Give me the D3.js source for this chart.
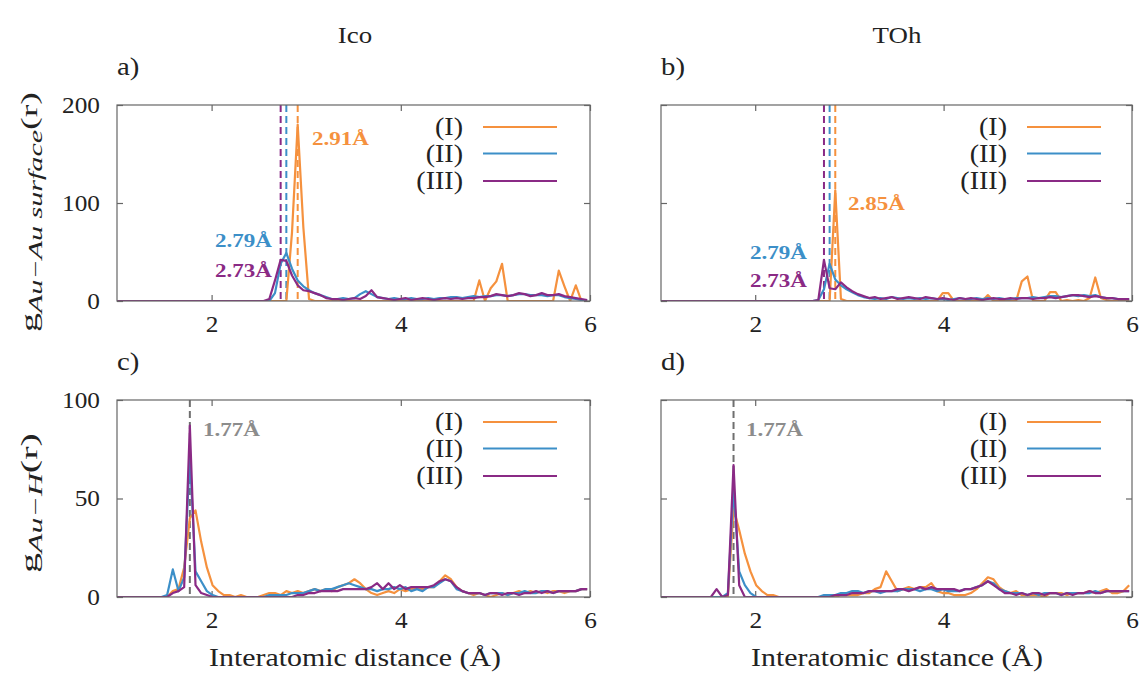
<!DOCTYPE html>
<html>
<head>
<meta charset="utf-8">
<script src="https://cdnjs.cloudflare.com/ajax/libs/d3/7.8.5/d3.min.js"></script>
<style>
  body { margin: 0; background: #fff; }
</style>
</head>
<body>
<svg id="chart" width="1140" height="675"></svg>
<script>
// radial bins (Å), centres of 0.06 Å bins
var rBins = [0.99,1.05,1.11,1.17,1.23,1.29,1.35,1.41,1.47,1.53,
  1.59,1.65,1.71,1.77,1.83,1.89,1.95,2.01,2.07,2.13,
  2.19,2.25,2.31,2.37,2.43,2.49,2.55,2.61,2.67,2.73,
  2.79,2.85,2.91,2.97,3.03,3.09,3.15,3.21,3.27,3.33,
  3.39,3.45,3.51,3.57,3.63,3.69,3.75,3.81,3.87,3.93,
  3.99,4.05,4.11,4.17,4.23,4.29,4.35,4.41,4.47,4.53,
  4.59,4.65,4.71,4.77,4.83,4.89,4.95,5.01,5.07,5.13,
  5.19,5.25,5.31,5.37,5.43,5.49,5.55,5.61,5.67,5.73,
  5.79,5.85,5.91,5.97];

// g Au-Au surface, Ico
var icoSurfI = [0,0,0,0,0,0,0,0,0,0, 0,0,0,0,0,0,0,0,0,0, 0,0,0,0,0,0,0,0,0,0,
  0,70,180,75,2, 0,0,0,0,0,0,0,0,0,0, 0,0,0,0,0,0,0,0,0,0, 0,0,0,0,0,0,0,0,0,
  21,0,13,20,38,0, 0,0,0,0,0,0,0,0, 31,15,0,16,0,0];
var icoSurfII = [0,0,0,0,0,0,0,0,0,0, 0,0,0,0,0,0,0,0,0,0, 0,0,0,0,0,0,0,0,
  8,38,49,33,21,15,11,8,6,4, 2,2,3,2,3,7,10,7,4,3, 2,3,2,2,3,2,2,3,2,3,
  3,4,4,3,4,5,4,5,5,6, 6,5,6,7,7,6,6,6,5,6, 6,4,3,2,1,1];
var icoSurfIII = [0,0,0,0,0,0,0,0,0,0, 0,0,0,0,0,0,0,0,0,0, 0,0,0,0,0,0,0,
  2,21,42,41,26,16,11,10,8,6, 3,2,2,1,2,3,2,5,11,4, 3,2,1,2,3,1,2,3,2,1,
  2,3,2,3,2,3,3,4,4,5, 7,6,5,6,8,7,5,6,8,6, 6,7,5,4,3,2,1];

// g Au-Au surface, TOh
var tohSurfI = [0,0,0,0,0,0,0,0,0,0, 0,0,0,0,0,0,0,0,0,0, 0,0,0,0,0,0,0,0,0,0,
  0,113,2, 0,0,0,0,0,0,0,0,0,0,0,0,0,0,0,0,0,
  8,8,0,0,0,0,0,0,6,0, 0,0,0,0,20,25,0,0,0,9, 9,0,1,0,1,0,3,24,3,1, 0,1,1,1];
var tohSurfII = [0,0,0,0,0,0,0,0,0,0, 0,0,0,0,0,0,0,0,0,0, 0,0,0,0,0,0,0,0,
  1,12,38,22,16,12,9,6,4,3, 2,3,2,4,3,2,3,2,3,2, 3,2,2,1,2,3,2,2,3,2,
  3,2,3,2,2,3,3,3,4,3, 4,5,5,4,5,6,5,6,5,6, 4,3,3,2,2,2];
var tohSurfIII = [0,0,0,0,0,0,0,0,0,0, 0,0,0,0,0,0,0,0,0,0, 0,0,0,0,0,0,0,0,
  1,42,13,12,19,14,10,7,5,3, 4,2,3,4,2,3,4,3,2,4, 3,2,3,2,1,3,2,3,2,1,
  2,3,2,2,3,2,3,3,2,3, 3,4,3,4,5,6,6,5,4,5, 4,3,3,2,2,2];

// g Au-H, Ico
var icoHI = [0,0,0,0,0,0,0,0,0,0,
  3,4,15,40,44,28,15,6,3,1, 1,0,1,0,0,0,1,2,2,1, 3,2,3,2,3,4,3,4,3,5,
  6,7,9,7,4,2,1,2,3,2, 4,3,4,5,4,5,5,8,11,9, 5,3,2,1,2,1,0,1,2,1,
  2,3,2,3,2,3,2,3,3,2, 3,3,4,4];
var icoHII = [0,0,0,0,0,0,0,0,0,
  1,14,3,10,72,13,8,3,1,0, 0,0,0,0,0,0,0,0,1,1, 1,1,2,2,2,3,4,3,4,4,
  5,6,7,6,5,4,4,3,4,4, 5,4,5,3,4,3,5,5,7,9, 8,4,3,2,2,2,1,2,2,2,
  1,2,2,3,2,2,3,3,2,3, 3,3,3,4,4];
var icoHIII = [0,0,0,0,0,0,0,0,0,
  0,2,3,5,87,6,2,1,0,0, 0,0,0,0,0,0,0,0,0,0, 0,0,0,1,1,2,2,3,3,3,
  3,4,4,4,4,4,5,7,4,7, 4,6,4,5,5,5,5,6,8,9, 8,5,3,2,2,2,1,2,2,1,
  2,2,1,2,2,3,2,3,2,3, 3,3,3,4,4];

// g Au-H, TOh
var tohHI = [0,0,0,0,0,0,0,0,0,0,0,
  0,0,45,34,22,13,6,3,1, 1,0,0,0,0,0,0,0,0,0, 0,0,1,1,1,1,2,2,4,5,
  13,8,3,4,5,4,5,5,7,3, 2,2,1,1,1,2,4,7,10,9, 5,3,2,3,1,1,1,1,0,2,
  2,2,1,2,2,2,3,2,3,4, 2,2,3,6];
var tohHII = [0,0,0,0,0,0,0,0,0,0,0,
  0,2,55,13,6,2,0,0,0, 0,0,0,0,0,0,0,0,0,1, 1,1,2,2,3,3,2,3,3,2,
  3,3,3,4,4,4,3,4,4,3, 4,3,3,3,4,4,5,6,8,7, 4,3,2,2,2,1,2,1,2,2,
  2,1,2,2,2,2,2,3,2,3, 3,3,3,3];
var tohHIII = [0,0,0,0,0,0,0,0,0,0,
  4,0,1,67,6,0,0,0,0,0, 0,0,0,0,0,0,0,0,0,0, 0,1,1,1,2,2,2,3,3,3,
  3,3,4,4,3,4,5,4,5,4, 4,4,4,3,4,4,5,6,8,6, 4,2,2,1,2,1,2,2,1,2,
  2,1,2,1,2,2,3,2,2,3, 3,3,3,3];

var seriesNames = ['(I)', '(II)', '(III)'];
var xTicks = [2, 4, 6];
var surfTicks = [0, 100, 200];
var hTicks = [0, 50, 100];
var columnTitles = ['Ico', 'TOh'];

// peak positions (Å)
var icoSurfPeaks = [2.91, 2.79, 2.73];
var tohSurfPeaks = [2.85, 2.79, 2.73];
var hPeak = 1.77;

var colors = ['#f5913e', '#3c8fc8', '#8a2a85'];
var grayLine = '#6f6f6f';
var grayText = '#8c8c8c';
var serif = "'Liberation Serif', 'Times New Roman', serif";

var svg = d3.select('#chart');

// stretch text a bit so Liberation Serif gets the width of the LaTeX font
function widen(sel, f){
  sel.each(function(){
    var w = this.getComputedTextLength();
    this.setAttribute('textLength', w * f);
    this.setAttribute('lengthAdjust', 'spacingAndGlyphs');
  });
}

var panels = [
  {letter: 'a)', left: 117, right: 590, top: 105, bottom: 301, yMax: 200, ticks: surfTicks, yLabels: true,
   data: [icoSurfI, icoSurfII, icoSurfIII], legX: 463,
   marks: [{r: icoSurfPeaks[0], c: 0, tx: 312, ty: 145, anchor: 'start'},
           {r: icoSurfPeaks[1], c: 1, tx: 272, ty: 247, anchor: 'end'},
           {r: icoSurfPeaks[2], c: 2, tx: 272, ty: 277, anchor: 'end'}]},
  {letter: 'b)', left: 661, right: 1132, top: 105, bottom: 301, yMax: 200, ticks: surfTicks, yLabels: false,
   data: [tohSurfI, tohSurfII, tohSurfIII], legX: 1007,
   marks: [{r: tohSurfPeaks[0], c: 0, tx: 848, ty: 210, anchor: 'start'},
           {r: tohSurfPeaks[1], c: 1, tx: 807, ty: 259, anchor: 'end'},
           {r: tohSurfPeaks[2], c: 2, tx: 807, ty: 287, anchor: 'end'}]},
  {letter: 'c)', left: 117, right: 590, top: 400, bottom: 597, yMax: 100, ticks: hTicks, yLabels: true,
   data: [icoHI, icoHII, icoHIII], legX: 463,
   marks: [{r: hPeak, c: -1, tx: 203, ty: 436, anchor: 'start'}]},
  {letter: 'd)', left: 661, right: 1132, top: 400, bottom: 597, yMax: 100, ticks: hTicks, yLabels: false,
   data: [tohHI, tohHII, tohHIII], legX: 1007,
   marks: [{r: hPeak, c: -1, tx: 746, ty: 436, anchor: 'start'}]}
];

function styleTicks(sel, labelled){
  sel.select('.domain').remove();
  sel.attr('color', '#666');
  sel.selectAll('line').attr('stroke-width', 1.2);
  sel.selectAll('text')
    .attr('font-family', serif)
    .attr('font-size', 23)
    .attr('fill', '#222');
  if (!labelled) sel.selectAll('text').remove();
  else widen(sel.selectAll('text'), 1.1);
}

panels.forEach(function(p, pi){
  var x = d3.scaleLinear().domain([1, 6]).range([p.left, p.right]);
  var y = d3.scaleLinear().domain([0, p.yMax]).range([p.bottom, p.top]);
  var g = svg.append('g');

  g.append('clipPath').attr('id', 'clip' + pi)
    .append('rect')
    .attr('x', p.left).attr('y', p.top - 2)
    .attr('width', p.right - p.left).attr('height', p.bottom - p.top + 2);

  // axes, ticks pointing inward on all four sides
  g.append('g').attr('transform', 'translate(0,' + p.bottom + ')')
    .call(d3.axisBottom(x).tickValues(xTicks).tickSize(-6).tickPadding(15).tickFormat(d3.format('d')))
    .call(styleTicks, true);
  g.append('g').attr('transform', 'translate(0,' + p.top + ')')
    .call(d3.axisTop(x).tickValues(xTicks).tickSize(-6))
    .call(styleTicks, false);
  g.append('g').attr('transform', 'translate(' + p.left + ',0)')
    .call(d3.axisLeft(y).tickValues(p.ticks).tickSize(-6).tickPadding(17).tickFormat(d3.format('d')))
    .call(styleTicks, p.yLabels);
  g.append('g').attr('transform', 'translate(' + p.right + ',0)')
    .call(d3.axisRight(y).tickValues(p.ticks).tickSize(-6))
    .call(styleTicks, false);

  // dashed peak markers
  p.marks.forEach(function(m){
    var col = m.c < 0 ? grayLine : colors[m.c];
    g.append('line')
      .attr('x1', x(m.r)).attr('x2', x(m.r))
      .attr('y1', p.top).attr('y2', p.bottom)
      .attr('stroke', col).attr('stroke-width', 2)
      .attr('stroke-dasharray', '7,4');
  });

  var line = d3.line()
    .x(function(d, i){ return x(rBins[i]); })
    .y(function(d){ return y(d); });

  g.append('g').attr('clip-path', 'url(#clip' + pi + ')')
    .selectAll('path')
    .data(p.data)
    .enter()
    .append('path')
    .attr('d', line)
    .attr('fill', 'none')
    .attr('stroke', function(d, i){ return colors[i]; })
    .attr('stroke-width', 2.2)
    .attr('stroke-linejoin', 'round');

  // frame
  g.append('rect')
    .attr('x', p.left).attr('y', p.top)
    .attr('width', p.right - p.left).attr('height', p.bottom - p.top)
    .attr('fill', 'none').attr('stroke', '#666').attr('stroke-width', 1.2);

  // peak labels
  p.marks.forEach(function(m){
    g.append('text')
      .attr('x', m.tx).attr('y', m.ty)
      .attr('text-anchor', m.anchor)
      .attr('font-family', serif)
      .attr('font-weight', 'bold')
      .attr('font-size', 19)
      .attr('fill', m.c < 0 ? grayText : colors[m.c])
      .attr('textLength', 57)
      .attr('lengthAdjust', 'spacingAndGlyphs')
      .text(m.r.toFixed(2) + 'Å');
  });

  // legend
  var rows = [22, 48.5, 76];
  seriesNames.forEach(function(name, i){
    var t = g.append('text')
      .attr('x', p.legX).attr('y', p.top + rows[i] + 8)
      .attr('text-anchor', 'end')
      .attr('font-family', serif)
      .attr('font-size', 25)
      .attr('fill', '#222')
      .text(name);
    widen(t, 1.12);
    g.append('line')
      .attr('x1', p.legX + 20).attr('x2', p.legX + 94)
      .attr('y1', p.top + rows[i]).attr('y2', p.top + rows[i])
      .attr('stroke', colors[i]).attr('stroke-width', 2.2);
  });

  // panel letter
  var lt = svg.append('text')
    .attr('x', p.left).attr('y', p.top - 30)
    .attr('font-family', serif)
    .attr('font-size', 25)
    .attr('fill', '#222')
    .text(p.letter);
  widen(lt, 1.15);
});

// column titles and x axis titles
columnTitles.forEach(function(t, i){
  var cx = i === 0 ? 355 : 897;
  var tt = svg.append('text').attr('x', cx).attr('y', 43)
    .attr('text-anchor', 'middle')
    .attr('font-family', serif).attr('font-size', 24).attr('fill', '#222')
    .text(t);
  widen(tt, 1.12);
  svg.append('text').attr('x', cx).attr('y', 666)
    .attr('text-anchor', 'middle')
    .attr('font-family', serif).attr('font-size', 26).attr('fill', '#222')
    .attr('textLength', 292).attr('lengthAdjust', 'spacingAndGlyphs')
    .text('Interatomic distance (Å)');
});

// y axis titles
function yTitle(cy, sub, len){
  var t = svg.append('text')
    .attr('transform', 'translate(37,' + cy + ') rotate(-90)')
    .attr('text-anchor', 'middle')
    .attr('font-family', serif)
    .attr('font-size', 24)
    .attr('fill', '#222');
  t.append('tspan').text('g');
  t.append('tspan').attr('dy', 5).attr('font-size', 19).attr('font-style', 'italic').text(sub);
  t.append('tspan').attr('dy', -5).text('(r)');
  t.attr('textLength', len).attr('lengthAdjust', 'spacingAndGlyphs');
}
yTitle(212, 'Au\u2212Au  surface', 240);
yTitle(503, 'Au\u2212H', 140);
</script>
</body>
</html>
